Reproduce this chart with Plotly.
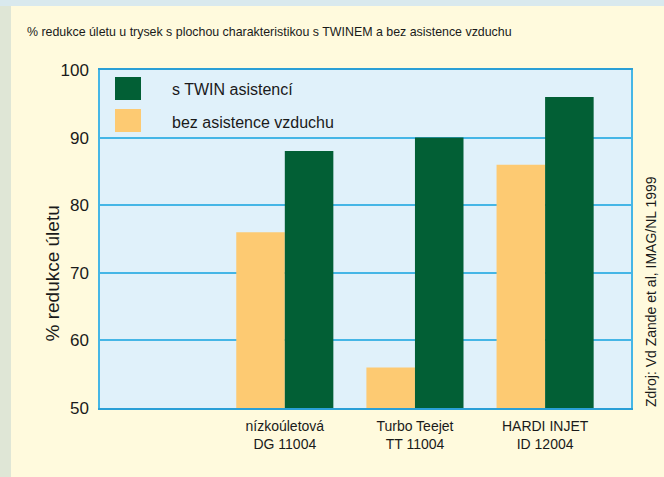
import plotly.graph_objects as go

trysky = ['nízkoúletová<br>DG 11004', 'Turbo Teejet<br>TT 11004', 'HARDI INJET<br>ID 12004']
bez_asistence = [76, 56, 86]
s_twin = [88, 90, 96]
nazev_bez = 'bez asistence vzduchu'
nazev_twin = 's TWIN asistencí'
y_ticks = [50, 60, 70, 80, 90, 100]

ZELENA = '#025f35'
ORANZOVA = '#fdca72'
MODRA = '#45b6e6'
ARIAL = 'Liberation Sans, Arial, sans-serif'

figura = go.Figure()
figura.add_trace(go.Bar(x=trysky, y=bez_asistence, name=nazev_bez,
                        marker_color=ORANZOVA, marker_line_width=0))
figura.add_trace(go.Bar(x=trysky, y=s_twin, name=nazev_twin,
                        marker_color=ZELENA, marker_line_width=0))

figura.update_layout(
    width=664,
    height=477,
    margin=dict(l=100, r=33, t=70, b=69),
    paper_bgcolor='#fffadd',
    plot_bgcolor='#e0f1fa',
    barmode='group',
    bargap=0.254,
    bargroupgap=0,
    showlegend=False,
    title=dict(
        text='% redukce úletu u trysek s plochou charakteristikou s TWINEM a bez asistence vzduchu',
        x=27 / 664, xanchor='left', xref='container',
        y=1 - 32 / 477, yanchor='middle', yref='container',
        font=dict(family=ARIAL, size=12.4, color='#1a1a1a')
    ),
)

figura.update_yaxes(
    range=[50, 100],
    tickvals=y_ticks,
    ticks='',
    ticklabelstandoff=6,
    tickfont=dict(family=ARIAL, size=17, color='#1a1a1a'),
    showgrid=True,
    gridcolor=MODRA,
    gridwidth=1.5,
    showline=True,
    linecolor=MODRA,
    linewidth=1.5,
    mirror=True,
    zeroline=False,
)

figura.update_xaxes(
    range=[-1.42, 2.66],
    ticks='',
    ticklabelstandoff=4,
    tickfont=dict(family=ARIAL, size=14, color='#1a1a1a'),
    showline=True,
    linecolor='#2a9fd6',
    linewidth=1.5,
    mirror=True,
)

# pozadi (fotka krajiny vlevo a nahore)
figura.add_shape(type='rect', xref='paper', yref='paper',
                 x0=-0.19, x1=(11 - 100) / 531, y0=-0.21, y1=1.21,
                 fillcolor='#dfe6d6', line_width=0, layer='below')
figura.add_shape(type='rect', xref='paper', yref='paper',
                 x0=-0.19, x1=1.07, y0=(408 - 6) / 338, y1=1.21,
                 fillcolor='#d9e9ee', line_width=0, layer='below')

# popisek osy y
figura.add_annotation(text='% redukce úletu', textangle=-90, showarrow=False,
                      xref='paper', yref='paper', x=(39 - 100) / 531, y=(408 - 274) / 338,
                      font=dict(family=ARIAL, size=19, color='#1a1a1a'))

# zdroj
figura.add_annotation(text='Zdroj: Vd Zande et al, IMAG/NL 1999', textangle=-90, showarrow=False,
                      xref='paper', yref='paper', x=(661 - 100) / 531, y=(408 - 292) / 338,
                      font=dict(family=ARIAL, size=14, color='#1a1a1a'))

# legenda
for i, (nazev, barva) in enumerate([(nazev_twin, ZELENA), (nazev_bez, ORANZOVA)]):
    horni = 77 + i * 32
    figura.add_shape(type='rect', xref='paper', yref='paper',
                     x0=(115 - 100) / 531, x1=(141 - 100) / 531,
                     y0=(408 - horni - 23) / 338, y1=(408 - horni) / 338,
                     fillcolor=barva, line_width=0)
    figura.add_annotation(text=nazev, showarrow=False, xref='paper', yref='paper',
                          x=(170 - 100) / 531, xanchor='left',
                          y=(408 - horni - 13) / 338, yanchor='middle',
                          font=dict(family=ARIAL, size=16, color='#1a1a1a'))

figura.write_html('out.html', config={'displayModeBar': False},
                  post_script="document.body.style.margin='0';")
